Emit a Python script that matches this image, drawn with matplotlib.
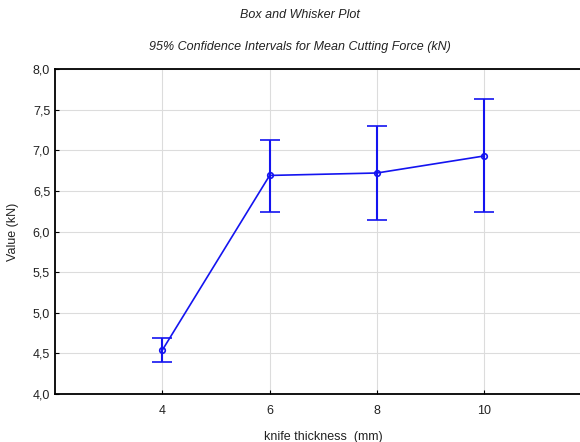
import matplotlib
matplotlib.use('Agg')
import matplotlib.pyplot as plt
from matplotlib.ticker import FuncFormatter

plt.rcParams['font.family'] = ['Liberation Sans', 'DejaVu Sans']

# knife thickness (mm) and mean cutting force with 95% CI (kN)
thickness = [4, 6, 8, 10]
mean_force = [4.54, 6.69, 6.72, 6.93]
ci_low = [4.39, 6.24, 6.14, 6.24]
ci_high = [4.69, 7.13, 7.30, 7.63]

err_low = [m - lo for m, lo in zip(mean_force, ci_low)]
err_high = [hi - m for m, hi in zip(mean_force, ci_high)]

fig = plt.figure(figsize=(5.8, 4.42), dpi=100)
ax = fig.add_axes([55 / 580, 1 - 394 / 442, 1 - 55 / 580 + 0.02, 325 / 442])

ax.errorbar(thickness, mean_force, yerr=[err_low, err_high], color='#1414f0',
            lw=1.2, marker='o', ms=4, mfc='none', mew=1.2, capsize=7,
            capthick=1.5, elinewidth=1.5)

ax.set_xlim(2, 12)
ax.set_ylim(4.0, 8.0)
ax.set_xticks(thickness)
ax.set_yticks([4.0, 4.5, 5.0, 5.5, 6.0, 6.5, 7.0, 7.5, 8.0])
ax.yaxis.set_major_formatter(FuncFormatter(lambda v, p: f'{v:.1f}'.replace('.', ',')))
ax.grid(True, color='#dcdcdc', lw=0.8)
ax.set_axisbelow(True)
ax.tick_params(labelsize=9, length=3, direction='in', color='black', labelcolor='#222222')
ax.tick_params(axis='x', pad=8)
for s in ax.spines.values():
    s.set_linewidth(1.3)

ax.set_xlabel('knife thickness  (mm)', fontsize=9, labelpad=10, color='#222222')
ax.set_ylabel('Value (kN)', fontsize=9, labelpad=10, color='#222222')

fig.text(300 / 580, 1 - 15 / 442, 'Box and Whisker Plot', ha='center', va='center',
         fontsize=9, style='italic', color='#222222')
fig.text(300 / 580, 1 - 47 / 442, '95% Confidence Intervals for Mean Cutting Force (kN)',
         ha='center', va='center', fontsize=9, style='italic', color='#222222')

fig.savefig('out.png', dpi=100)
